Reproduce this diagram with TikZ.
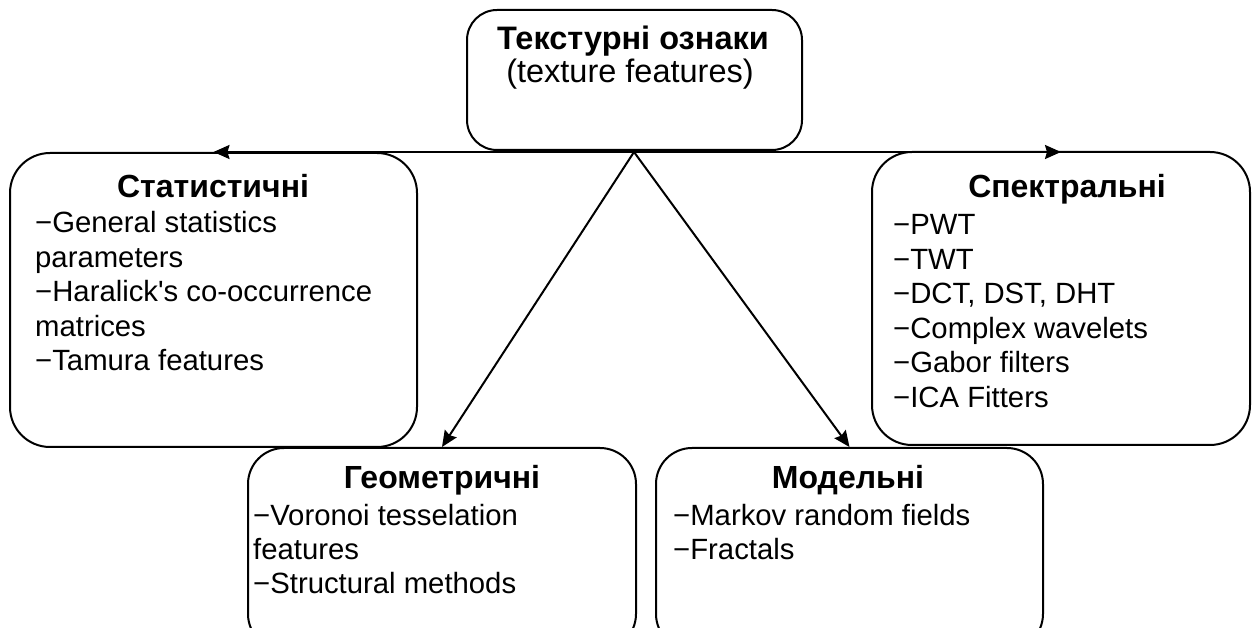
\documentclass[tikz,border=0pt]{standalone}
\usepackage{fontspec}
\setmainfont{Liberation Sans}
\usetikzlibrary{arrows.meta}
\begin{document}
\begin{tikzpicture}[x=1pt,y=-1pt,
  box/.style={draw, line width=2pt, rounded corners=#1, inner sep=0pt},
  box/.default=38pt,
  ttl/.style={anchor=base, inner sep=0pt, font=\fontsize{32}{36}\selectfont\bfseries},
  sub/.style={anchor=base, inner sep=0pt, font=\fontsize{32.5}{36}\selectfont},
  lst/.style={anchor=base west, inner sep=0pt, font=\fontsize{29.3}{34.5}\selectfont},
  arr/.style={line width=2pt, -{Stealth[length=16pt,width=14pt,inset=2pt]}}]
\useasboundingbox (0,0) rectangle (1254,628);
\clip (0,0) rectangle (1254,628);

% boxes
\node[box=30pt, minimum width=335pt, minimum height=140pt] (top) at (634.5,80) {};
\node[box=40pt, minimum width=407pt, minimum height=294pt] (stat) at (213.5,300) {};
\node[box=40pt, minimum width=378pt, minimum height=293pt] (spec) at (1061,298.5) {};
\node[box=36pt, minimum width=388pt, minimum height=202pt] (geom) at (442,549) {};
\node[box=36pt, minimum width=387pt, minimum height=202pt] (model) at (849.5,549) {};

% root label
\node[ttl, font=\fontsize{32.5}{36}\selectfont\bfseries] (toptitle) at (633,50) {Текстурні ознаки};
\node[sub] (topsub) at (630,83) {(texture features)};

% statistical
\node[ttl] (stattitle) at (213,198) {Статистичні};
\node[lst] (statlist) at (35,233) {\begin{tabular}[t]{@{}l@{}}
−General statistics\\ parameters\\ −Haralick\textquotesingle s co-occurrence\\ matrices\\ −Tamura features\end{tabular}};

% spectral
\node[ttl] (spectitle) at (1067,198) {Спектральні};
\node[lst] (speclist) at (893,235) {\begin{tabular}[t]{@{}l@{}}
−PWT\\ −TWT\\ −DCT, DST, DHT\\ −Complex wavelets\\ −Gabor filters\\ −ICA Fitters\end{tabular}};

% geometric
\node[ttl] (geomtitle) at (442,488) {Геометричні};
\node[lst] (geomlist) at (253,525) {\begin{tabular}[t]{@{}l@{}}
−Voronoi tesselation\\ features\\ −Structural methods\end{tabular}};

% model-based
\node[ttl] (modeltitle) at (848,488) {Модельні};
\node[lst] (modellist) at (673,525) {\begin{tabular}[t]{@{}l@{}}
−Markov random fields\\ −Fractals\end{tabular}};

% connectors
\coordinate (hub) at (634,152);
\draw[arr] (hub) -- (hub -| stat.north);
\draw[arr] (hub) -- (hub -| spec.north);
\draw[arr] (hub) -- (geom.north);
\draw[arr] (hub) -- (model.north);
\end{tikzpicture}
\end{document}
